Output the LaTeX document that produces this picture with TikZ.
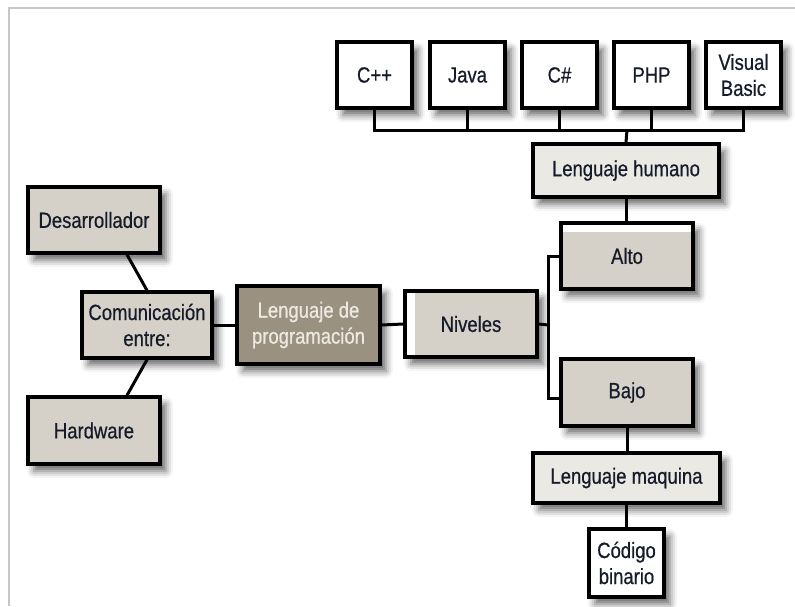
\documentclass[tikz,border=0pt]{standalone}
\usepackage{fontspec}
\setmainfont{Liberation Sans}[FakeStretch=0.84,FakeBold=0.6]
\usetikzlibrary{shadows.blur}
\definecolor{txt}{HTML}{161B2A}
\definecolor{boxgrey}{HTML}{D5D1C8}
\definecolor{boxlight}{HTML}{EBE9E4}
\definecolor{boxdark}{HTML}{9B9181}
\definecolor{txtlight}{HTML}{EEEAE2}
\definecolor{framegrey}{HTML}{C6C6C6}
\begin{document}
\begin{tikzpicture}[x=1pt,y=-1pt,
  every node/.style={font=\fontsize{22}{26}\selectfont, text=txt, align=center},
  bx/.style={draw=black, line width=3.3pt, inner sep=0pt,
    blur shadow={shadow xshift=6pt, shadow yshift=-7pt, shadow blur radius=7pt, shadow opacity=60}},
  whitebx/.style={bx, fill=white},
  greybx/.style={bx, fill=boxgrey},
  lightbx/.style={bx, fill=boxlight},
  darkbx/.style={bx, fill=boxdark, text=txtlight},
  conn/.style={draw=black, line width=3pt}]
\useasboundingbox (0,0) rectangle (795,606);
\draw[framegrey, line width=2pt] (9,606) -- (9,8) -- (795,8);

% connectors
\coordinate (bus) at (627,130);
\coordinate (br) at (548,325);

% top row
\node[whitebx, minimum width=75pt, minimum height=66pt] (cpp)  at (374.5,75) {C++};
\node[whitebx, minimum width=75pt, minimum height=66pt] (java) at (467.5,75) {Java};
\node[whitebx, minimum width=75pt, minimum height=66pt] (cs)   at (559.5,75) {C\#};
\node[whitebx, minimum width=75pt, minimum height=66pt] (php)  at (651.5,75) {PHP};
\node[whitebx, minimum width=75pt, minimum height=66pt] (vb)   at (743.5,75) {Visual\\Basic};

% right column
\node[lightbx, minimum width=186pt, minimum height=53pt] (lh) at (626,170.5) {Lenguaje humano};
\node[greybx, minimum width=132pt, minimum height=66pt,
  path picture={\fill[white] (path picture bounding box.north west) rectangle ([yshift=-9pt]path picture bounding box.north east);}]
  (alto) at (627,256) {Alto};
\node[greybx, minimum width=132pt, minimum height=66pt,
  path picture={\fill[white] (path picture bounding box.north west) rectangle ([xshift=10pt]path picture bounding box.south west);}]
  (niv) at (471,324) {Niveles};
\node[greybx, minimum width=132pt, minimum height=67pt] (bajo) at (627,392.5) {Bajo};
\node[lightbx, minimum width=187pt, minimum height=50pt] (lm) at (626.5,478) {Lenguaje maquina};
\node[whitebx, minimum width=75pt, minimum height=68pt] (cb) at (626.5,563) {Código\\binario};

% left part
\node[greybx, minimum width=132pt, minimum height=66pt] (desa) at (94,220) {Desarrollador};
\node[greybx, minimum width=130pt, minimum height=66pt] (com) at (147,325) {Comunicación\\entre:};
\node[greybx, minimum width=132pt, minimum height=67pt] (hard) at (94,430.5) {Hardware};
\node[darkbx, minimum width=143pt, minimum height=78pt] (lp) at (308.5,325) {Lenguaje de\\programación};

\draw[conn] (cpp.south) |- (bus);
\draw[conn] (vb.south) |- (bus);
\draw[conn] (java.south) -- (java.south |- bus);
\draw[conn] (cs.south) -- (cs.south |- bus);
\draw[conn] (php.south) -- (php.south |- bus);
\draw[conn] (bus) -- (lh.north);
\draw[conn] (lh.south) -- (alto.north -| lh.south);
\draw[conn] (bajo.south) -- (lm.north -| bajo.south);
\draw[conn] (lm.south) -- (cb.north);
\draw[conn] (niv.east) -- (br);
\draw[conn] (alto.west) -| (br);
\draw[conn] ([yshift=-6pt]bajo.west) -| (br);
\draw[conn] (lp.east) -- (niv.west);
\draw[conn] (com.east) -- (lp.west);
\draw[conn] (com.north) -- ([xshift=33pt]desa.south);
\draw[conn] (com.south) -- ([xshift=33pt]hard.north);
\end{tikzpicture}
\end{document}
